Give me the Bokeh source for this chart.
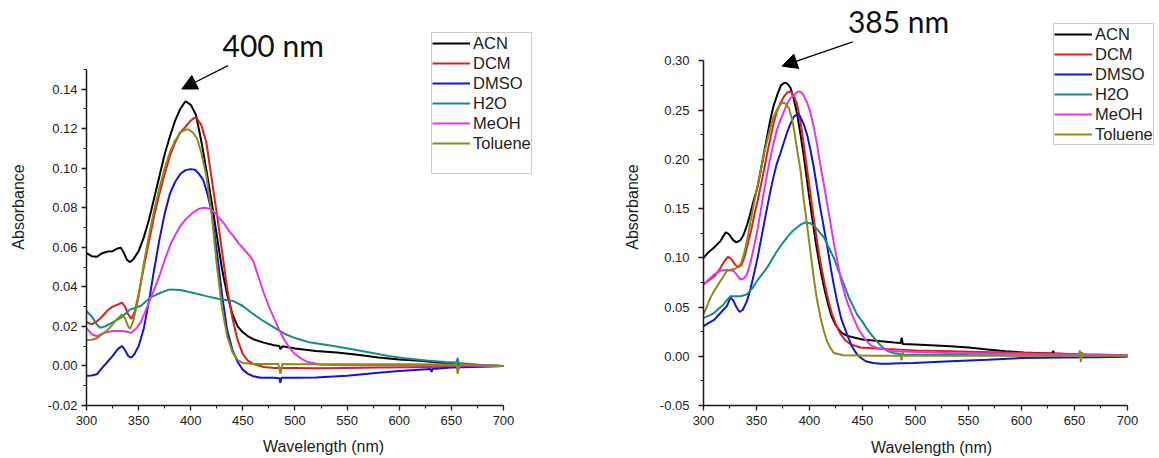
from bokeh.plotting import figure
from bokeh.models import (Range1d, FixedTicker, PrintfTickFormatter, Legend, LegendItem,
                          Label, Arrow, NormalHead)
from bokeh.layouts import row
from bokeh.embed import file_html
from bokeh.resources import INLINE

SOLVENTS = ["ACN", "DCM", "DMSO", "H2O", "MeOH", "Toluene"]
COLORS = ["#000000", "#e01e1e", "#1414d2", "#178a8a", "#e437e4", "#8a8a1e"]

X_TICKS = [300, 350, 400, 450, 500, 550, 600, 650, 700]
X_MINOR = [325, 375, 425, 475, 525, 575, 625, 675]
L_Y_TICKS = [-0.02, 0.00, 0.02, 0.04, 0.06, 0.08, 0.10, 0.12, 0.14]
L_Y_MINOR = [-0.01, 0.01, 0.03, 0.05, 0.07, 0.09, 0.11, 0.13, 0.15]
R_Y_TICKS = [-0.05, 0.00, 0.05, 0.10, 0.15, 0.20, 0.25, 0.30]
R_Y_MINOR = [-0.025, 0.025, 0.075, 0.125, 0.175, 0.225, 0.275]

# ---------------- left panel (nm, absorbance) ----------------
L_ACN = [(300,.057),(305,.0555),(310,.0552),(315,.057),(320,.0578),(325,.058),(330,.0594),(333,.0598),
         (336,.057),(339,.0535),(342,.0525),(345,.054),(350,.058),(355,.065),(360,.074),(365,.085),
         (370,.096),(375,.107),(380,.116),(385,.124),(390,.130),(395,.1338),(400,.132),(405,.127),
         (410,.114),(415,.099),(420,.083),(425,.066),(430,.049),(435,.036),(440,.026),(445,.020),
         (450,.017),(455,.015),(460,.0135),(470,.0118),(480,.0105),(485,.0101),(486,.0085),(488,.0099),
         (500,.0088),(520,.0076),(540,.0068),(560,.0056),(580,.0043),(600,.0033),(620,.0026),
         (640,.0016),(660,.0009),(680,.0004),(700,.0)]
L_DCM = [(300,.0222),(305,.021),(310,.0225),(315,.025),(320,.028),(325,.030),(330,.031),(334,.032),
         (337,.030),(340,.026),(343,.0238),(346,.027),(350,.036),(355,.050),(360,.063),(365,.076),
         (370,.087),(375,.097),(380,.106),(385,.113),(390,.118),(395,.121),(400,.124),(403,.1254),
         (406,.125),(410,.122),(415,.113),(420,.095),(425,.077),(430,.058),(435,.039),(440,.024),
         (445,.013),(450,.006),(455,.0025),(460,.001),(470,-.0005),(480,-.001),(500,-.001),(520,-.0012),
         (550,-.001),(580,-.0008),(610,-.0006),(640,-.0004),(655,-.0004),(656,-.002),(657,-.0003),
         (670,-.0002),(700,.0)]
L_DMSO = [(300,-.005),(305,-.0048),(310,-.0042),(315,-.001),(320,.002),(325,.005),(330,.0085),(334,.0101),
          (337,.008),(340,.005),(343,.0042),(346,.006),(350,.010),(355,.019),(360,.033),(365,.049),
          (370,.064),(375,.077),(380,.087),(385,.093),(390,.097),(395,.099),(400,.0995),(404,.0992),
          (408,.097),(412,.094),(416,.087),(420,.078),(425,.058),(430,.036),(435,.018),(440,.008),
          (445,.002),(450,-.002),(455,-.004),(460,-.0052),(467,-.006),(480,-.006),(485,-.0062),
          (486,-.0085),(487,-.006),(500,-.006),(520,-.0058),(550,-.005),(580,-.0035),(600,-.0025),
          (630,-.0015),(631,-.003),(632,-.0015),(650,-.0008),(680,-.0004),(700,.0)]
L_H2O = [(300,.0278),(305,.025),(310,.021),(313,.0193),(318,.020),(325,.022),(333,.0244),(342,.0286),
         (352,.0303),(361,.0345),(371,.037),(380,.0387),(390,.0384),(402,.037),(415,.0353),(428,.0337),
         (441,.0328),(450,.0303),(458,.027),(467,.0236),(475,.021),(483,.0185),(491,.016),(499,.0143),
         (507,.013),(515,.0118),(537,.0101),(555,.0084),(573,.0067),(590,.005),(608,.0037),(626,.0028),
         (644,.002),(655,.0017),(656,.004),(657,.0015),(679,.0005),(700,.0)]
L_MEOH = [(300,.0193),(305,.016),(310,.015),(317,.0168),(326,.0177),(335,.0177),(343,.0168),(348,.019),
          (352,.022),(356,.027),(361,.0337),(366,.040),(371,.047),(376,.055),(381,.062),(386,.067),
          (390,.0707),(395,.074),(402,.0774),(408,.0795),(413,.080),(418,.0795),(422,.078),(427,.075),
          (432,.072),(437,.068),(441,.0656),(446,.062),(451,.059),(456,.056),(460,.053),(465,.045),
          (470,.037),(475,.030),(480,.024),(485,.018),(490,.013),(495,.009),(500,.006),(505,.004),
          (512,.002),(525,.0006),(550,.0004),(600,.0003),(650,.0002),(700,.0)]
L_TOL = [(300,.0131),(305,.0132),(310,.014),(315,.016),(320,.018),(325,.021),(330,.024),(334,.026),
         (337,.024),(340,.020),(342,.0188),(345,.023),(350,.035),(355,.052),(360,.066),(365,.079),
         (370,.090),(375,.100),(380,.108),(385,.114),(390,.118),(395,.1195),(398,.1195),(402,.118),
         (406,.115),(410,.108),(415,.096),(420,.077),(425,.051),(430,.029),(435,.015),(440,.007),
         (445,.003),(450,.0015),(460,.001),(484,.001),(486,-.004),(488,.001),(500,.0009),(550,.0009),
         (600,.0008),(654,.0007),(655,.0015),(656,-.004),(658,.0006),(670,.0005),(700,.0)]

# ---------------- right panel (nm, absorbance) ----------------
R_ACN = [(300,.100),(305,.106),(310,.1105),(316,.117),(321,.126),(324,.124),(328,.118),(331,.1157),
         (335,.118),(338,.124),(341,.133),(344,.1446),(347,.157),(351,.172),(354,.189),(357,.206),
         (360,.223),(363,.240),(366,.254),(370,.267),(373,.275),(376.5,.278),(379,.277),(382,.273),
         (385,.262),(388,.248),(391,.229),(394,.208),(397,.184),(400,.160),(403,.137),(406,.115),
         (409,.096),(412,.079),(415,.064),(418,.051),(421,.040),(425,.031),(430,.024),(435,.021),
         (442,.019),(450,.017),(460,.016),(470,.015),(480,.014),(486,.0135),(487,.019),(488,.0125),
         (500,.012),(533,.0102),(550,.0088),(568,.0068),(585,.0052),(602,.0038),(620,.0032),
         (629,.0029),(630,.0055),(631,.0028),(650,.0019),(672,.0011),(700,.0006)]
R_DCM = [(300,.073),(305,.077),(310,.081),(315,.088),(320,.097),(323,.101),(326,.099),(330,.093),
         (333,.0905),(336,.093),(339,.102),(342,.115),(345,.128),(348,.144),(351,.158),(354,.173),
         (357,.189),(360,.206),(363,.221),(366,.236),(369,.248),(372.5,.257),(376,.264),(379,.268),
         (382,.269),(385,.265),(388,.257),(391,.242),(394,.220),(397,.196),(400,.172),(403,.148),
         (406,.125),(409,.104),(412,.086),(415,.070),(418,.056),(421,.044),(425,.032),(429,.023),
         (434,.016),(439,.012),(448,.009),(463,.0078),(500,.006),(533,.0051),(570,.0042),(602,.0034),
         (640,.0025),(655,.002),(656,.004),(657,.002),(672,.0017),(700,.001)]
R_DMSO = [(300,.0306),(305,.034),(310,.037),(316,.044),(322,.051),(325.5,.0595),(328,.057),(331,.050),
          (334,.045),(337,.047),(341,.056),(344,.067),(347.5,.083),(351,.100),(354,.117),(357,.134),
          (360,.151),(363,.167),(366,.182),(369,.195),(372.5,.206),(376,.218),(379,.228),(382,.236),
          (385,.243),(388.5,.246),(391,.244),(394.5,.236),(398,.224),(401,.209),(404,.192),(407,.172),
          (410,.152),(413.5,.131),(417,.110),(420,.090),(423,.072),(426,.056),(430,.038),(435.5,.022),
          (440,.010),(445,.0017),(449,-.002),(453,-.005),(460,-.0068),(467,-.0075),(474,-.0075),
          (486,-.007),(498,-.0068),(533,-.005),(568,-.0034),(600,-.0018),(640,-.0012),(672,-.001),
          (700,-.0005)]
R_H2O = [(300,.039),(305,.041),(310,.044),(314,.048),(319,.0527),(322,.057),(325.5,.061),(330,.061),
         (335,.061),(341,.063),(346,.069),(350.5,.0765),(355,.083),(360,.090),(365,.099),(369.5,.107),
         (374,.114),(379,.121),(384,.127),(388.5,.131),(392,.134),(396,.136),(400,.1355),(404,.1327),
         (408,.128),(413.5,.121),(418,.111),(423,.100),(427,.088),(432.5,.073),(437,.060),(442,.049),
         (445,.042),(449.5,.0357),(456,.025),(463.5,.0153),(468,.010),(474,.005),(480,.003),(488,.0017),
         (550,.0012),(600,.001),(650,.0008),(700,.0005)]
R_MEOH = [(300,.073),(305,.078),(310,.083),(316,.087),(322,.088),(328.5,.0867),(332,.082),(335,.078),
          (338,.079),(341,.083),(344,.094),(347.5,.1105),(351,.129),(354,.148),(357,.167),(360,.185),
          (363,.201),(366,.216),(369,.229),(372.5,.240),(376,.249),(379,.257),(382,.262),(385,.265),
          (388,.268),(390,.269),(392,.2685),(394.5,.265),(398,.257),(401,.247),(404,.233),(407,.216),
          (410,.196),(413.5,.175),(417,.153),(420,.134),(423,.115),(426,.098),(430,.076),(435,.057),
          (441,.040),(446,.028),(452,.018),(458,.011),(463.5,.0085),(481,.005),(533,.0034),(600,.0024),
          (650,.0015),(700,.0007)]
R_TOL = [(300,.0425),(303,.050),(306.5,.0595),(311,.068),(316,.0765),(322,.0867),(326,.088),(330,.089),
         (335,.0935),(338,.103),(341,.117),(344,.135),(347.5,.155),(351,.173),(354,.189),(357,.205),
         (360,.219),(363,.232),(366,.243),(370,.252),(374,.2575),(377,.257),(380.5,.252),(383,.243),
         (385,.233),(388,.212),(391.5,.189),(394.5,.160),(398,.131),(401,.105),(404,.080),(407,.058),
         (410.5,.039),(413.5,.026),(416.5,.0153),(420,.008),(423,.0034),(432,.001),(460,.0005),
         (486,.0005),(487,-.004),(488,.004),(489,.0005),(550,.0005),(600,.0005),(654,.0005),
         (655,.006),(656,-.006),(657,.004),(658,.0005),(700,.0005)]

LEFT_SERIES = [L_ACN, L_DCM, L_DMSO, L_H2O, L_MEOH, L_TOL]
RIGHT_SERIES = [R_ACN, R_DCM, R_DMSO, R_H2O, R_MEOH, R_TOL]

AXIS_FONT = "Liberation Sans"


def style_axes(p, y_ticks, y_minor, y_bounds):
    p.xaxis.ticker = FixedTicker(ticks=X_TICKS, minor_ticks=X_MINOR)
    p.yaxis.ticker = FixedTicker(ticks=y_ticks, minor_ticks=y_minor)
    p.yaxis.formatter = PrintfTickFormatter(format="%.2f")
    p.xaxis.bounds = (300, 700)
    p.yaxis.bounds = y_bounds
    p.xaxis.axis_label = "Wavelength (nm)"
    p.yaxis.axis_label = "Absorbance"
    for ax in (p.xaxis, p.yaxis):
        ax.axis_line_color = "#1a1a1a"
        ax.axis_line_width = 1.5
        ax.major_tick_line_color = "#1a1a1a"
        ax.minor_tick_line_color = "#1a1a1a"
        ax.major_tick_line_width = 1.3
        ax.minor_tick_line_width = 1.1
        ax.major_tick_out = 5
        ax.major_tick_in = 0
        ax.minor_tick_out = 3
        ax.minor_tick_in = 0
        ax.major_label_text_font = AXIS_FONT
        ax.major_label_text_font_size = "13px"
        ax.major_label_text_color = "#222222"
        ax.major_label_text_line_height = 1.0
        ax.axis_label_text_font = AXIS_FONT
        ax.axis_label_text_font_size = "16px"
        ax.axis_label_text_font_style = "normal"
        ax.axis_label_text_color = "#222222"
        ax.axis_label_text_line_height = 1.0
    p.xaxis.major_label_standoff = 5
    p.xaxis.axis_label_standoff = 10
    p.yaxis.major_label_standoff = 4
    p.yaxis.axis_label_standoff = 18
    p.xgrid.visible = False
    p.ygrid.visible = False
    p.outline_line_color = None


def add_lines(p, series, blank_rows):
    items = []
    for name, color, data in zip(SOLVENTS, COLORS, series):
        xs = [d[0] for d in data]
        ys = [d[1] for d in data]
        r = p.line(xs, ys, line_color=color, line_width=2)
        items.append(LegendItem(label=name, renderers=[r]))
    for _ in range(blank_rows):
        rb = p.line([], [], line_alpha=0)
        items.append(LegendItem(label=" ", renderers=[rb]))
    return items


def make_legend(items, loc):
    return Legend(items=items, location=loc, margin=0, padding=0, spacing=0,
                  label_standoff=3, glyph_width=38, glyph_height=20, label_height=20,
                  label_text_font=AXIS_FONT, label_text_font_size="16.5px",
                  label_text_color="#222222", label_text_baseline="middle",
                  border_line_color="#999999", border_line_width=1.5,
                  background_fill_color="white", background_fill_alpha=1.0)


# ---------------- left figure ----------------
p1 = figure(width=588, height=458, x_range=Range1d(300, 754.7), y_range=Range1d(-0.02, 0.1807),
            min_border_left=86, min_border_right=28, min_border_top=8, min_border_bottom=51,
            output_backend="svg", toolbar_location=None)
style_axes(p1, L_Y_TICKS, L_Y_MINOR, (-0.02, 0.15))
items1 = add_lines(p1, LEFT_SERIES, 1)
p1.add_layout(make_legend(items1, (345, 231)))
p1.add_layout(Label(x=430.5, y=0.1621, text="400 nm", text_font="Lato", text_font_size="30px",
                    text_color="#111111", text_baseline="alphabetic", text_align="left"))
p1.add_layout(Arrow(end=NormalHead(size=15, fill_color="black", line_color="black", line_width=1),
                    x_start=435.8, y_start=0.1518, x_end=391.4, y_end=0.140,
                    line_color="black", line_width=1.3))

# ---------------- right figure ----------------
p2 = figure(width=571, height=458, x_range=Range1d(300, 730.2), y_range=Range1d(-0.05, 0.3533),
            min_border_left=115, min_border_right=0, min_border_top=8, min_border_bottom=53,
            output_backend="svg", toolbar_location=None)
style_axes(p2, R_Y_TICKS, R_Y_MINOR, (-0.05, 0.30))
p2.yaxis.major_label_standoff = 9
p2.yaxis.axis_label_standoff = 16
p2.xaxis.axis_label_standoff = 11
items2 = add_lines(p2, RIGHT_SERIES, 0)
p2.add_layout(make_legend(items2, (350, 260)))
p2.add_layout(Label(x=436.3, y=0.3411, text="385 nm", text_font="Lato", text_font_size="30px",
                    text_color="#111111", text_baseline="alphabetic", text_align="left"))
p2.add_layout(Arrow(end=NormalHead(size=15, fill_color="black", line_color="black", line_width=1),
                    x_start=440.8, y_start=0.3195, x_end=374.1, y_end=0.2947,
                    line_color="black", line_width=1.3))

layout = row(p1, p2)
open("out.html", "w").write(file_html(layout, INLINE))
